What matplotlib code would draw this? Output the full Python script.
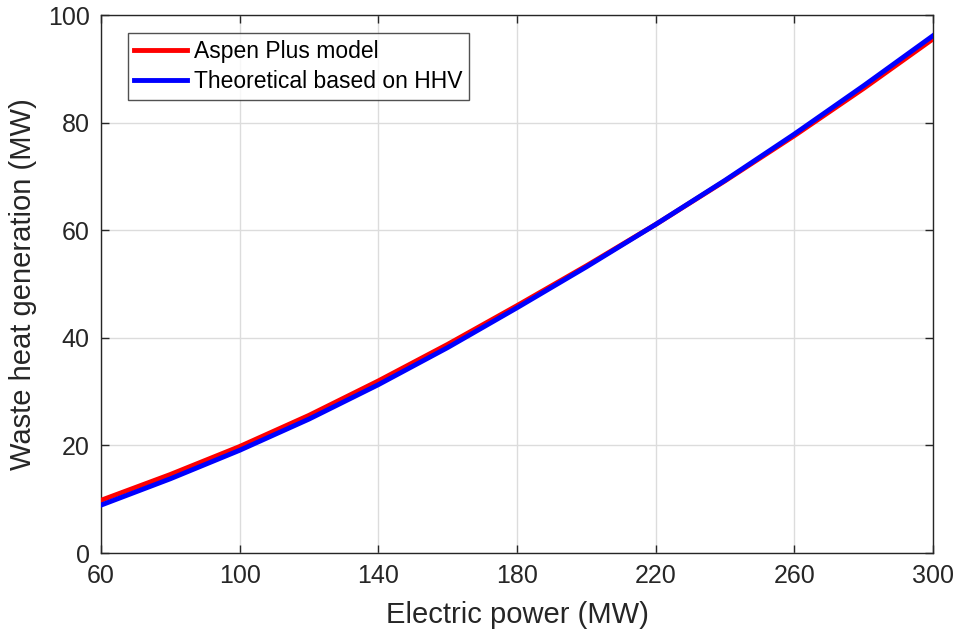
import matplotlib
matplotlib.use("Agg")
import matplotlib.pyplot as plt

plt.rcParams['font.family'] = ['Liberation Sans', 'DejaVu Sans']

electric_power = [60, 80, 100, 120, 140, 160, 180, 200, 220, 240, 260, 280, 300]
aspen_plus = [9.8, 14.6, 19.8, 25.6, 32.0, 38.8, 46.0, 53.4, 61.1, 69.2, 77.6, 86.4, 95.6]
theoretical_hhv = [8.9, 13.8, 19.1, 24.9, 31.3, 38.2, 45.6, 53.2, 61.1, 69.3, 77.9, 86.9, 96.2]

x_ticks = [60, 100, 140, 180, 220, 260, 300]
y_ticks = [0, 20, 40, 60, 80, 100]

fig = plt.figure(figsize=(9.58, 6.36), dpi=100)
ax = fig.add_axes([0.1054, 0.1305, 0.8685, 0.8455])

ax.plot(electric_power, aspen_plus, color='#ff0000', lw=3.5, label='Aspen Plus model',
        zorder=3, solid_joinstyle='round')
ax.plot(electric_power, theoretical_hhv, color='#0000ff', lw=3.5, label='Theoretical based on HHV',
        zorder=4, solid_joinstyle='round')

ax.set_xlim(60, 300)
ax.set_ylim(0, 100)
ax.set_xticks(x_ticks)
ax.set_yticks(y_ticks)
ax.grid(True, color='#dcdcdc', lw=1.0)
ax.set_axisbelow(True)

ec = '#262626'
for s in ax.spines.values():
    s.set_color(ec)
    s.set_linewidth(1.0)
ax.tick_params(direction='in', length=6, width=1.0, colors=ec, labelsize=18,
               top=True, right=True, pad=8)
ax.set_xlabel('Electric power (MW)', fontsize=21, color=ec, labelpad=9)
ax.set_ylabel('Waste heat generation (MW)', fontsize=21, color=ec, labelpad=8)

leg = ax.legend(loc='upper left', bbox_to_anchor=(0.032, 0.967), fontsize=16.5,
                frameon=True, fancybox=False, edgecolor=ec, handlelength=2.3,
                handletextpad=0.3, borderpad=0.3, labelspacing=0.3, borderaxespad=0)
leg.get_frame().set_linewidth(1.0)

fig.savefig('out.png', dpi=100)
